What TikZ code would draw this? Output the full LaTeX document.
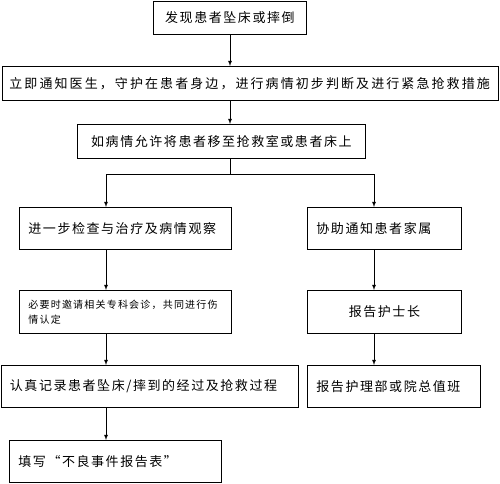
\documentclass[tikz,border=0pt]{standalone}
\usepackage{fontspec}
\newfontfamily\cjk[LetterSpace=12]{Noto Sans CJK SC}
\newfontfamily\cjkwide[LetterSpace=16]{Noto Sans CJK SC}
\usetikzlibrary{arrows}

\begin{document}
\begin{tikzpicture}[x=1pt,y=-1pt,>=latex,
    box/.style={draw,line width=0.8pt,anchor=north west,inner xsep=9pt,inner ysep=0pt,
                font=\cjk\fontsize{13}{15}\selectfont},
    boxl/.style={box,align=left},
    boxc/.style={box,align=center}]
  \useasboundingbox (0,0) rectangle (500,483);

  % main column
  \node[boxc,text width=135pt,minimum height=33pt] (fall)    at (153,0.5) {发现患者坠床或摔倒};
  \node[boxl,inner xsep=7pt,text width=482pt,minimum height=34pt,font=\cjkwide\fontsize{13}{15}\selectfont]
                                                    (notify)  at (2,66)    {立即通知医生，守护在患者身边，进行病情初步判断及进行紧急抢救措施};
  \node[boxc,text width=270pt,minimum height=34pt] (move)    at (77,124)  {如病情允许将患者移至抢救室或患者床上};

  % left branch
  \node[boxl,text width=194pt,minimum height=42pt] (exam)    at (19,207)  {进一步检查与治疗及病情观察};
  \node[boxl,text width=194pt,minimum height=43pt,font=\cjk\fontsize{10}{15}\selectfont]
                                                    (consult) at (19,290)  {必要时邀请相关专科会诊，共同进行伤\\情认定};
  \node[boxl,text width=279pt,minimum height=42pt] (record)  at (0.5,365) {认真记录患者坠床/摔到的经过及抢救过程};
  \node[boxl,text width=194pt,minimum height=42pt] (form)    at (9,440)   {填写“不良事件报告表”};

  % right branch
  \node[boxl,text width=136pt,minimum height=42pt] (family)  at (307,207) {协助通知患者家属};
  \node[boxc,text width=136pt,minimum height=43pt] (head)    at (307,290) {报告护士长};
  \node[boxl,text width=155pt,minimum height=42pt] (office)  at (307,365) {报告护理部或院总值班};

  \coordinate (split) at (230,174);
  \coordinate (lcol)  at (106,174);
  \coordinate (rcol)  at (374,174);

  \draw[line width=0.8pt,->] (fall.south -| split)   -- (notify.north -| split);
  \draw[line width=0.8pt,->] (notify.south -| split) -- (move.north -| split);
  \draw[line width=0.8pt]    (move.south -| split)   -- (split);
  \draw[line width=0.8pt]    (lcol) -- (rcol);
  \draw[line width=0.8pt,->] (lcol) -- (exam.north -| lcol);
  \draw[line width=0.8pt,->] (rcol) -- (family.north -| rcol);
  \draw[line width=0.8pt,->] (exam.south -| lcol)    -- (consult.north -| lcol);
  \draw[line width=0.8pt,->] (consult.south -| lcol) -- (record.north -| lcol);
  \draw[line width=0.8pt,->] (record.south -| lcol)  -- (form.north -| lcol);
  \draw[line width=0.8pt,->] (family.south -| rcol)  -- (head.north -| rcol);
  \draw[line width=0.8pt,->] (head.south -| rcol)    -- (office.north -| rcol);
\end{tikzpicture}
\end{document}
